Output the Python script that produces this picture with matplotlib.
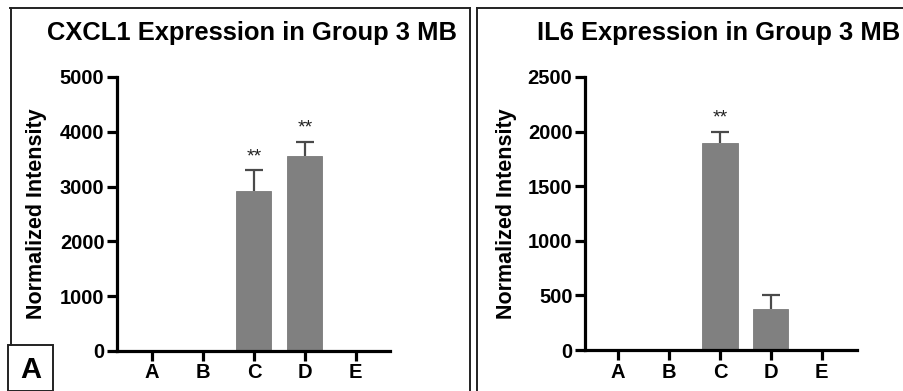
import matplotlib
matplotlib.use("Agg")
import matplotlib.pyplot as plt
from matplotlib.lines import Line2D
from matplotlib.patches import Rectangle

plt.rcParams['font.family'] = ['Liberation Sans', 'DejaVu Sans']

categories = ["A", "B", "C", "D", "E"]
cxcl1_values = [0, 0, 2920, 3553, 0]
cxcl1_err = [0, 0, 377, 266, 0]
cxcl1_sig = ["", "", "**", "**", ""]
il6_values = [0, 0, 1893, 373, 0]
il6_err = [0, 0, 107, 131, 0]
il6_sig = ["", "", "**", "", ""]

W, H = 904, 391
fig = plt.figure(figsize=(W / 100, H / 100), dpi=100)

def px_axes(x0, x1, ytop, ybot):
    return fig.add_axes([x0 / W, 1 - ybot / H, (x1 - x0) / W, (ybot - ytop) / H])

def draw_panel(ax, values, errs, sig, ymax, step, title, xlim, title_x, lpad):
    x = list(range(len(categories)))
    ax.bar(x, values, width=0.69, color="#808080", edgecolor="#7a7a7a", linewidth=0.6, zorder=2)
    cap = 0.17
    for xi, v, e, s in zip(x, values, errs, sig):
        if e > 0:
            ax.vlines(xi, v, v + e, color="#4a4a4a", linewidth=1.6, zorder=3)
            ax.hlines(v + e, xi - cap, xi + cap, color="#4a4a4a", linewidth=1.6, zorder=3)
        if s:
            ax.text(xi, v + e + ymax * 0.018, s, ha="center", va="bottom", fontsize=14, color="#222222")
    ax.set_xlim(*xlim)
    ax.set_ylim(0, ymax)
    ax.set_yticks(range(0, ymax + 1, step))
    ax.set_xticks(x)
    ax.set_xticklabels(categories)
    for sp in ["top", "right"]:
        ax.spines[sp].set_visible(False)
    for sp in ["left", "bottom"]:
        ax.spines[sp].set_linewidth(2.3)
        ax.spines[sp].set_capstyle("projecting")
    ax.tick_params(axis="both", width=2.3, length=7, labelsize=14.5, pad=2)
    for lab in ax.get_xticklabels() + ax.get_yticklabels():
        lab.set_fontweight("bold")
    ax.set_ylabel("Normalized Intensity", fontsize=15.5, fontweight="bold", labelpad=lpad)
    ax.set_facecolor("none")
    fig.text(title_x / W, 1 - 33 / H, title, ha="center", va="center", fontsize=18.4, fontweight="bold")

ax1 = px_axes(117, 390, 77, 351)
draw_panel(ax1, cxcl1_values, cxcl1_err, cxcl1_sig, 5000, 1000,
           "CXCL1 Expression in Group 3 MB", (-0.686, 4.67), 252, 9)
ax2 = px_axes(585, 857, 77, 350)
draw_panel(ax2, il6_values, il6_err, il6_sig, 2500, 500,
           "IL6 Expression in Group 3 MB", (-0.65, 4.69), 719, 8)

def fl(xs, ys, lw=1.4):
    fig.add_artist(Line2D([v / W for v in xs], [1 - v / H for v in ys],
                          color="#222222", linewidth=lw, transform=fig.transFigure))

fl([11, 11], [345, 8])
fl([10, 470], [8, 8])
fl([470, 470], [8, 391])
fl([477, 477], [391, 8])
fl([477, 904], [8, 8])
fig.add_artist(Rectangle((8 / W, 0), (53 - 8) / W, (391 - 345) / H, fill=False,
                         edgecolor="#222222", linewidth=1.4, transform=fig.transFigure))
fig.text(31 / W, 1 - 370 / H, "A", ha="center", va="center", fontsize=21, fontweight="bold")

fig.savefig("out.png", dpi=100)
